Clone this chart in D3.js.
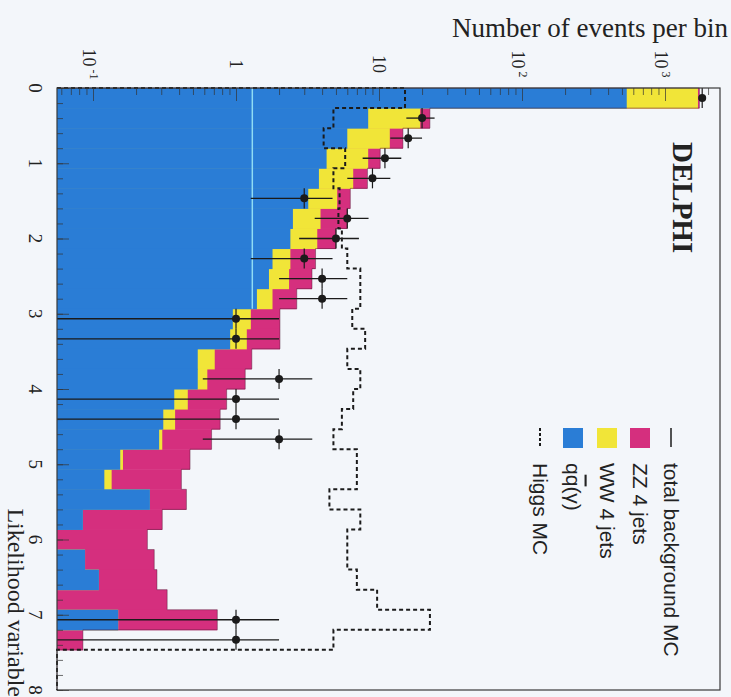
<!DOCTYPE html>
<html>
<head>
<meta charset="utf-8">
<script src="https://cdn.jsdelivr.net/npm/d3@7"></script>
<style>
  html, body { margin: 0; padding: 0; background: #f3f6fa; }
  svg { display: block; }
</style>
</head>
<body>
<svg id="chart" width="731" height="697"></svg>
<script>
// Likelihood variable histogram, 30 bins between 0 and 8.
// The scan is rotated by 90 degrees: likelihood runs down, events run right.
const nBins = 30;
const likelihoodRange = [0, 8];
const likelihoodTicks = [0, 1, 2, 3, 4, 5, 6, 7, 8];
const eventTicks = [0.1, 1, 10, 100, 1000];

// background MC, events per bin
const qqValues = [540, 8.4, 6.0, 4.3, 3.8, 3.2, 2.5, 2.4, 1.8, 1.7, 1.4, 0.95, 0.91, 0.54, 0.54,
  0.37, 0.31, 0.29, 0.155, 0.12, 0.25, 0.085, 0, 0.088, 0.11, 0, 0.15, 0, 0, 0];
const wwValues = [1160, 11.0, 5.9, 4.1, 2.8, 1.9, 1.4, 1.3, 0.6, 0.65, 0.4, 0.32, 0.28, 0.17, 0.09,
  0.09, 0.065, 0.015, 0.007, 0.015, 0, 0, 0, 0, 0, 0, 0, 0, 0, 0];
const zzValues = [40, 3.3, 2.8, 1.8, 1.7, 1.2, 2.1, 1.3, 1.2, 1.05, 0.86, 0.76, 0.84, 0.58, 0.53,
  0.40, 0.40, 0.37, 0.315, 0.28, 0.20, 0.22, 0.24, 0.18, 0.17, 0.33, 0.59, 0.085, 0, 0];
// signal MC
const higgsValues = [15.2, 4.8, 4.1, 5.8, 4.8, 5.3, 5.2, 5.5, 6.0, 7.4, 7.4, 6.5, 8.0, 6.0, 7.4,
  6.6, 5.5, 4.8, 7.0, 7.0, 4.5, 7.4, 6.0, 6.0, 7.0, 9.7, 22.7, 4.8, 0, 0];
// real data
const dataCounts = [1820, 20, 16, 11, 9, 3, 6, 5, 3, 4, 4, 1, 1, 0, 2, 1, 1, 2, 0, 0,
  0, 0, 0, 0, 0, 0, 1, 1, 0, 0];

const legendLabels = ["total background MC", "ZZ 4 jets", "WW 4 jets", "qq(γ)", "Higgs MC"];

const colors = { qq: "#2a7dd6", ww: "#f1e538", zz: "#d52f7e", ink: "#1b1b1b" };
const serif = "'Liberation Serif', 'DejaVu Serif', serif";
const sans = "'Liberation Sans', Arial, sans-serif";

const svg = d3.select("#chart");
const frame = { left: 57, right: 720, top: 88, bottom: 690 };

// log axis: 1 event at x=236, 143 px per decade
const x = d3.scaleLog().domain([0.056, 2424]).range([frame.left, frame.right]).clamp(true);
const y = d3.scaleLinear().domain(likelihoodRange).range([frame.top, frame.bottom]);

const binWidth = (likelihoodRange[1] - likelihoodRange[0]) / nBins;
const xv = (v) => (v > 0 ? x(v) : frame.left);

const bins = qqValues.map((qq, i) => {
  const ww = wwValues[i];
  const zz = zzValues[i];
  return {
    i,
    lo: likelihoodRange[0] + i * binWidth,
    hi: likelihoodRange[0] + (i + 1) * binWidth,
    qq,
    qqww: qq + ww,
    total: qq + ww + zz,
    higgs: higgsValues[i],
    n: dataCounts[i],
  };
});

// stacked histogram: total first, then qq+WW, then qq on top
const layers = [
  { key: "total", color: colors.zz },
  { key: "qqww", color: colors.ww },
  { key: "qq", color: colors.qq },
];
const barsG = svg.append("g").attr("class", "bars");
layers.forEach((layer) => {
  barsG.append("g")
    .selectAll("rect")
    .data(bins.filter((d) => d[layer.key] > 0))
    .join("rect")
    .attr("x", frame.left)
    .attr("y", (d) => y(d.lo))
    .attr("width", (d) => xv(d[layer.key]) - frame.left)
    .attr("height", (d) => y(d.hi) - y(d.lo) + 0.5)
    .attr("fill", layer.color);
});

// light guide line seen on the scan inside the qq area
const guideValue = 1.3;
const guideEnd = bins.find((d) => d.qq < guideValue).lo;
svg.append("line")
  .attr("x1", x(guideValue)).attr("x2", x(guideValue))
  .attr("y1", y(0)).attr("y2", y(guideEnd))
  .attr("stroke", "#8fdcf4").attr("stroke-width", 1.5);

// step outlines
const stepPoints = (key) => {
  const pts = [[frame.left, y(bins[0].lo)]];
  bins.forEach((d) => {
    pts.push([xv(d[key]), y(d.lo)], [xv(d[key]), y(d.hi)]);
  });
  pts.push([frame.left, y(bins[bins.length - 1].hi)]);
  return pts;
};
const line = d3.line();

svg.append("path")
  .attr("d", line(stepPoints("total")))
  .attr("fill", "none")
  .attr("stroke", "#4a1a33")
  .attr("stroke-opacity", 0.55)
  .attr("stroke-width", 0.8);

svg.append("path")
  .attr("d", line(stepPoints("higgs")))
  .attr("fill", "none")
  .attr("stroke", colors.ink)
  .attr("stroke-width", 2)
  .attr("stroke-dasharray", "4,3");

// data points with poisson errors
const dataG = svg.append("g").attr("class", "data");
const points = bins.filter((d) => d.n > 0);
dataG.selectAll("line.ex")
  .data(points)
  .join("line")
  .attr("class", "ex")
  .attr("x1", (d) => xv(d.n)).attr("x2", (d) => xv(d.n))
  .attr("y1", (d) => y(d.lo)).attr("y2", (d) => y(d.hi))
  .attr("stroke", colors.ink).attr("stroke-width", 1.2);
dataG.selectAll("line.ey")
  .data(points)
  .join("line")
  .attr("class", "ey")
  .attr("x1", (d) => xv(d.n - Math.sqrt(d.n)))
  .attr("x2", (d) => xv(d.n + Math.sqrt(d.n)))
  .attr("y1", (d) => y((d.lo + d.hi) / 2)).attr("y2", (d) => y((d.lo + d.hi) / 2))
  .attr("stroke", colors.ink).attr("stroke-width", 1.3);
dataG.selectAll("circle")
  .data(points)
  .join("circle")
  .attr("cx", (d) => xv(d.n))
  .attr("cy", (d) => y((d.lo + d.hi) / 2))
  .attr("r", 4)
  .attr("fill", colors.ink);

// axis ticks (inside the frame)
const tickStyle = (g) => {
  g.select(".domain").remove();
  g.selectAll("line").attr("stroke", "#333").attr("stroke-opacity", 0.7);
  g.selectAll("text").remove();
};
svg.append("g")
  .attr("transform", `translate(0,${frame.top})`)
  .call(d3.axisBottom(x).tickValues(eventTicks).tickSize(13).tickFormat(""))
  .call(tickStyle);
svg.append("g")
  .attr("transform", `translate(0,${frame.top})`)
  .call(d3.axisBottom(x).tickValues(x.ticks().filter((v) => !eventTicks.includes(v))).tickSize(7).tickFormat(""))
  .call(tickStyle);
svg.append("g")
  .attr("transform", `translate(${frame.left},0)`)
  .call(d3.axisRight(y).tickValues(likelihoodTicks).tickSize(12).tickFormat(""))
  .call(tickStyle);
svg.append("g")
  .attr("transform", `translate(${frame.left},0)`)
  .call(d3.axisRight(y).ticks(40).tickSize(6).tickFormat(""))
  .call(tickStyle);

// frame
svg.append("rect")
  .attr("x", frame.left).attr("y", frame.top)
  .attr("width", frame.right - frame.left).attr("height", frame.bottom - frame.top)
  .attr("fill", "none").attr("stroke", "#3a3a3a").attr("stroke-width", 1.2);

// log axis labels (rotated)
const logLabels = svg.append("g").attr("font-family", serif).attr("fill", "#222");
eventTicks.forEach((v) => {
  const exp = Math.round(Math.log10(v));
  const hasExp = exp !== 0 && exp !== 1;
  const t = logLabels.append("text")
    .attr("transform", `translate(${x(v) - (hasExp ? 4 : 0)},64) rotate(90)`)
    .attr("text-anchor", "middle")
    .attr("dy", "0.35em")
    .attr("font-size", 18);
  if (exp === 0) t.text("1");
  else if (exp === 1) t.text("10");
  else {
    t.append("tspan").text("10");
    t.append("tspan").attr("font-size", 12).attr("dx", 3).attr("dy", -7).text(exp);
  }
});

// likelihood axis labels
svg.append("g")
  .selectAll("text")
  .data(likelihoodTicks)
  .join("text")
  .attr("transform", (d) => `translate(36,${y(d)}) rotate(90)`)
  .attr("text-anchor", "middle")
  .attr("dy", "0.35em")
  .attr("font-family", serif)
  .attr("font-size", 19)
  .attr("fill", "#222")
  .text((d) => d);

svg.append("text")
  .attr("transform", `translate(16,697) rotate(90)`)
  .attr("text-anchor", "end")
  .attr("dy", "0.35em")
  .attr("font-family", serif)
  .attr("font-size", 24)
  .attr("fill", "#222")
  .text("Likelihood variable");

svg.append("text")
  .attr("x", 728).attr("y", 37)
  .attr("text-anchor", "end")
  .attr("font-family", serif)
  .attr("font-size", 27)
  .attr("fill", "#222")
  .text("Number of events per bin");

svg.append("text")
  .attr("transform", `translate(683,142) rotate(90)`)
  .attr("dy", "0.35em")
  .attr("font-family", serif)
  .attr("font-weight", "bold")
  .attr("font-size", 29)
  .attr("fill", "#222")
  .text("DELPHI");

// legend (rotated)
const legendX = [671, 640, 607, 573, 540];
const legendKinds = ["line", colors.zz, colors.ww, colors.qq, "dashed"];
const legend = svg.append("g");
legendLabels.forEach((label, k) => {
  const cx = legendX[k];
  const kind = legendKinds[k];
  if (kind === "line" || kind === "dashed") {
    legend.append("line")
      .attr("x1", cx).attr("x2", cx).attr("y1", 428).attr("y2", 447)
      .attr("stroke", colors.ink)
      .attr("stroke-width", kind === "line" ? 1.5 : 2)
      .attr("stroke-dasharray", kind === "dashed" ? "3,2" : null);
  } else {
    legend.append("rect")
      .attr("x", cx - 10).attr("y", 428).attr("width", 20).attr("height", 20)
      .attr("fill", kind);
  }
  const t = legend.append("text")
    .attr("transform", `translate(${cx},463) rotate(90)`)
    .attr("dy", "0.35em")
    .attr("font-family", sans)
    .attr("font-size", 21)
    .attr("fill", "#222");
  if (label.startsWith("qq")) {
    t.append("tspan").text("q");
    t.append("tspan").attr("text-decoration", "overline").text("q");
    t.append("tspan").text(label.slice(2));
  } else {
    t.text(label);
  }
});
</script>
</body>
</html>
